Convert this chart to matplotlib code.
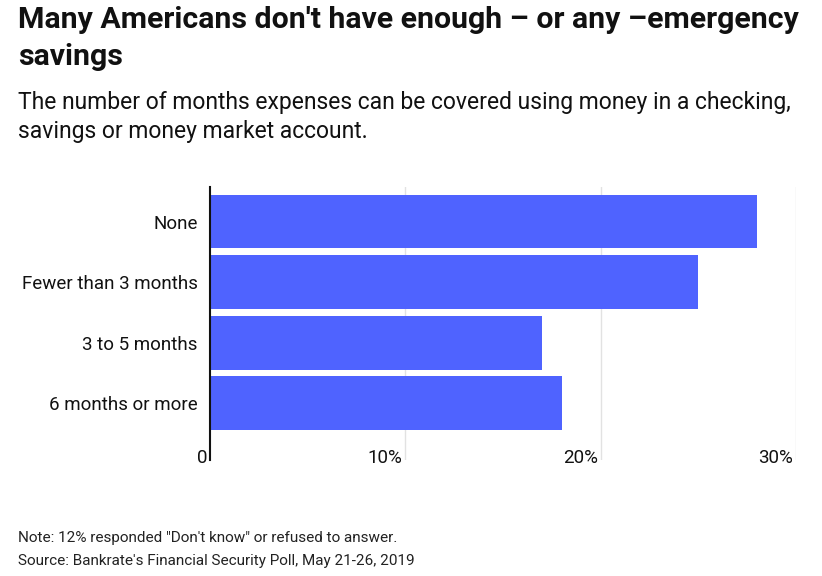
import matplotlib.pyplot as plt
import matplotlib.transforms as mtransforms

# data
categories = ['None', 'Fewer than 3 months', '3 to 5 months', '6 months or more']
shares = [28, 25, 17, 18]
tick_values = [0, 10, 20, 30]
tick_labels = ['0', '10%', '20%', '30%']

plt.rcParams['font.family'] = ['Roboto', 'DejaVu Sans']

W, H = 822, 576
fig = plt.figure(figsize=(W / 100, H / 100), dpi=100)

# axes placed in pixel coords
left, right, top, bottom = 210, 796, 187, 460
ax = fig.add_axes([left / W, 1 - bottom / H, (right - left) / W, (bottom - top) / H])

ypos = list(range(len(categories)))
ax.barh(ypos, shares, height=0.89, color='#4f63ff', zorder=2)
ax.set_ylim(3.94, -0.57)
ax.set_xlim(0, 30)

ax.set_yticks(ypos)
ax.set_yticklabels(categories, fontsize=13.5, color='#111111')
ax.tick_params(axis='y', length=0, pad=9)

ax.set_xticks(tick_values)
ax.set_xticklabels(tick_labels, fontsize=13.5, color='#111111')
ax.tick_params(axis='x', length=0, pad=-8)
offset = mtransforms.ScaledTranslation(-3 / 100, 0, fig.dpi_scale_trans)
for lab in ax.get_xticklabels():
    lab.set_horizontalalignment('right')
    lab.set_transform(lab.get_transform() + offset)

for v in tick_values[1:]:
    ax.axvline(v, color='#e2e2e2', linewidth=1, zorder=1)

for s in ['top', 'right', 'bottom']:
    ax.spines[s].set_visible(False)
ax.spines['left'].set_color('#111111')
ax.spines['left'].set_linewidth(1.5)
ax.spines['left'].set_zorder(3)

fig.text(18 / W, 1 - 6 / H, "Many Americans don't have enough \u2013 or any \u2013emergency\nsavings",
         fontsize=21.8, fontweight='bold', va='top', ha='left', color='#111111', linespacing=1.4)
fig.text(18 / W, 1 - 91 / H, "The number of months expenses can be covered using money in a checking,\nsavings or money market account.",
         fontsize=16.5, va='top', ha='left', color='#111111', linespacing=1.35)
fig.text(18 / W, 1 - 531 / H, 'Note: 12% responded "Don\'t know" or refused to answer.\nSource: Bankrate\'s Financial Security Poll, May 21-26, 2019',
         fontsize=11, va='top', ha='left', color='#222222', linespacing=1.85)

plt.savefig('out.png', dpi=100, facecolor='white')
